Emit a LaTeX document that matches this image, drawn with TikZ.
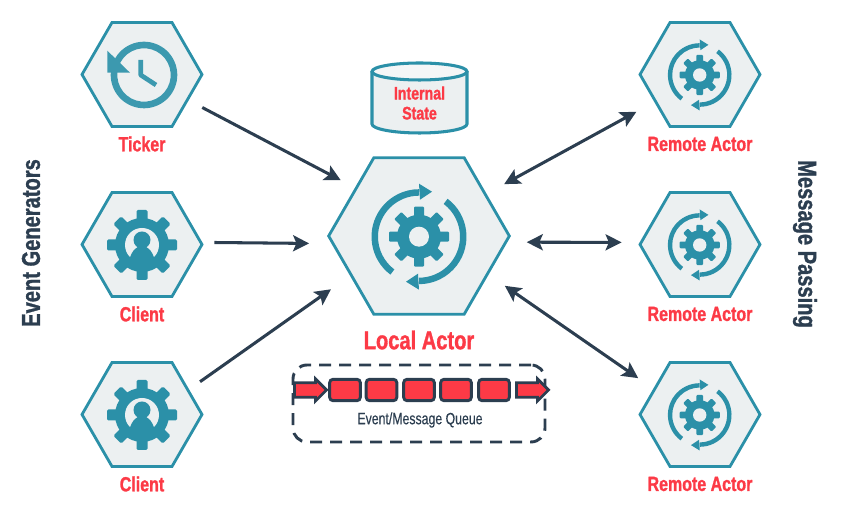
\documentclass[tikz,border=0pt]{standalone}
\usepackage{fontspec}
\usetikzlibrary{shapes.arrows,shapes.geometric,arrows.meta}
\newfontfamily\oswald[FakeStretch=0.75,FakeBold=0.3]{Liberation Sans}
\newfontfamily\oswaldbold[FakeStretch=0.78,FakeBold=1.2]{Liberation Sans Bold}
\definecolor{teal}{HTML}{2B90A8}
\definecolor{hexfill}{HTML}{ECF0F1}
\definecolor{redtext}{HTML}{FC3A46}
\definecolor{slate}{HTML}{2C3E50}
\tikzset{
	x=0.3mm, y=0.3mm,
	hexagon/.style={regular polygon, regular polygon sides=6, draw=teal, fill=hexfill, line width=2.4pt, inner sep=0pt, minimum size=36mm},
	actorname/.style={text=redtext, font=\oswaldbold\fontsize{17.5}{20}\selectfont},
	sidetitle/.style={text=slate, font=\oswaldbold\fontsize{22}{24}\selectfont},
	flow/.style={draw=slate, line width=2.6pt, -{Stealth[length=4.8mm,width=4.8mm,inset=1mm]}},
	flowboth/.style={flow, {Stealth[length=4.8mm,width=4.8mm,inset=1mm]}-{Stealth[length=4.8mm,width=4.8mm,inset=1mm]}},
	cell/.style={draw=slate, fill=redtext, line width=2.5pt, rounded corners=1mm, minimum width=9.2mm, minimum height=6.4mm, inner sep=0pt},
	blockarrow/.style={single arrow, draw=slate, fill=redtext, line width=2.3pt, inner xsep=0pt, inner ysep=1.75mm, minimum height=9.6mm, single arrow head extend=1.2mm, single arrow head indent=0mm},
	pics/gear/.style={code={
		\foreach \a in {0,45,...,315}
			\fill[teal, rotate=\a, rounded corners=0.3mm] (-5,0) rectangle (5,30);
		\fill[teal] (0,0) circle (22);
		\fill[hexfill] (0,0) circle (10);
		\foreach \a in {0,180} {
			\fill[teal, rotate=\a] (233:47.5) arc[start angle=233,end angle=90,radius=47.5] -- (90:41) arc[start angle=90,end angle=233,radius=41] -- cycle;
			\fill[teal, rotate=\a] (0,53) -- (13,45) -- (1,37) -- cycle;
		}
	}},
	pics/usergear/.style={code={
		\foreach \a in {0,45,...,315}
			\fill[teal, rotate=\a, rounded corners=0.4mm] (-5.5,0) rectangle (5.5,35);
		\fill[teal] (0,0) circle (27);
		\fill[hexfill] (0,0) circle (17);
		\fill[teal] (0,5) circle (8.5);
		\fill[teal] (-13,-20) .. controls (-13,-8) and (-6,-1) .. (0,-1) .. controls (6,-1) and (13,-8) .. (13,-20) -- cycle;
	}},
	pics/clock/.style={code={
		\fill[teal!92!white] (198:33.3) arc[start angle=198,end angle=-220,radius=33.3] -- (140:26.7) arc[start angle=140,end angle=558,radius=26.7] -- cycle;
		\fill[teal!92!white] (-36.7,24.3) -- (-36.7,2.3) -- (-14,2.3) -- cycle;
		\draw[teal!92!white, line width=4pt, line join=round] (-3.3,15) -- (-3.3,0) -- (12,-10);
	}},
}

\begin{document}
\begin{tikzpicture}
	\useasboundingbox (0,0) rectangle (845,524);
	%Event generators
		\node[hexagon] (ticker) at (142,449.5) {};
		\pic at (144,449) {clock};
		\node[actorname] (tickername) at (142,380) {Ticker};
		\node[hexagon] (clienta) at (142,279.5) {};
		\pic at (142,279) {usergear};
		\node[actorname] (clientaname) at (142,210) {Client};
		\node[hexagon] (clientb) at (142,109.5) {};
		\pic at (142,109) {usergear};
		\node[actorname] (clientbname) at (142,40) {Client};
		\node[sidetitle, rotate=90] (generators) at (31,281) {Event Generators};
	%Local actor
		\node[hexagon, minimum size=54.2mm] (localactor) at (419,288) {};
		\pic at (419,287.3) {gear};
		\node[actorname, font=\oswaldbold\fontsize{22}{24}\selectfont] (localname) at (419,184) {Local Actor};
	%Internal state
		\draw[draw=teal, fill=hexfill, line width=2.6pt] (372,452.5) -- (372,400) arc[start angle=180,end angle=360,x radius=47.5,y radius=9] -- (467,452.5);
		\draw[draw=teal, fill=hexfill!60!white, line width=2.6pt] (419.5,452.5) ellipse (47.5 and 8.5);
		\node[actorname, font=\oswaldbold\fontsize{15.5}{17}\selectfont, align=center] (statename) at (419.5,421) {Internal\\State};
	%Remote actors
		\node[hexagon] (remotea) at (700,449.5) {};
		\pic[scale=0.67] at (699.7,449) {gear};
		\node[actorname] (remoteaname) at (700,380) {Remote Actor};
		\node[hexagon] (remoteb) at (700,279.5) {};
		\pic[scale=0.67] at (699.7,279) {gear};
		\node[actorname] (remotebname) at (700,210) {Remote Actor};
		\node[hexagon] (remotec) at (700,109.5) {};
		\pic[scale=0.67] at (699.7,109) {gear};
		\node[actorname] (remotecname) at (700,40) {Remote Actor};
		\node[sidetitle, rotate=-90] (passing) at (805,280) {Message Passing};
	%Connectors
		\draw[flow, shorten <=4.6mm, shorten >=4.8mm] (ticker.-29.5) -- (localactor.143.8);
		\draw[flow, shorten <=3.6mm, shorten >=6.7mm] (clienta.2) -- (localactor.-175.5);
		\draw[flow, shorten <=4mm, shorten >=7mm] (clientb.28.6) -- (localactor.210.5);
		\draw[flowboth, shorten <=6mm, shorten >=6.1mm] (localactor.32.5) -- (remotea.211.8);
		\draw[flowboth, shorten <=5.8mm, shorten >=5.4mm] (localactor.-4.5) -- (remoteb.178.6);
		\draw[flowboth, shorten <=5.9mm, shorten >=5.5mm] (localactor.-29.6) -- (remotec.151.3);
	%Queue
		\node[draw=slate, line width=2.5pt, dash pattern=on 3.6mm off 2.4mm, rounded corners=4.2mm, minimum width=75.6mm, minimum height=23.1mm, inner sep=0pt] (queue) at (419,120.5) {};
		\node[blockarrow] (queuein) at (307,134) {};
		\node[cell] (cella) at (345,134) {};
		\node[cell] (cellb) at (381.5,134) {};
		\node[cell] (cellc) at (419,134) {};
		\node[cell] (celld) at (456,134) {};
		\node[cell] (celle) at (494,134) {};
		\node[blockarrow] (queueout) at (529,134) {};
		\node[text=slate, font=\oswald\fontsize{14}{17}\selectfont] (queuename) at (420,104) {Event/Message Queue};
\end{tikzpicture}
\end{document}
